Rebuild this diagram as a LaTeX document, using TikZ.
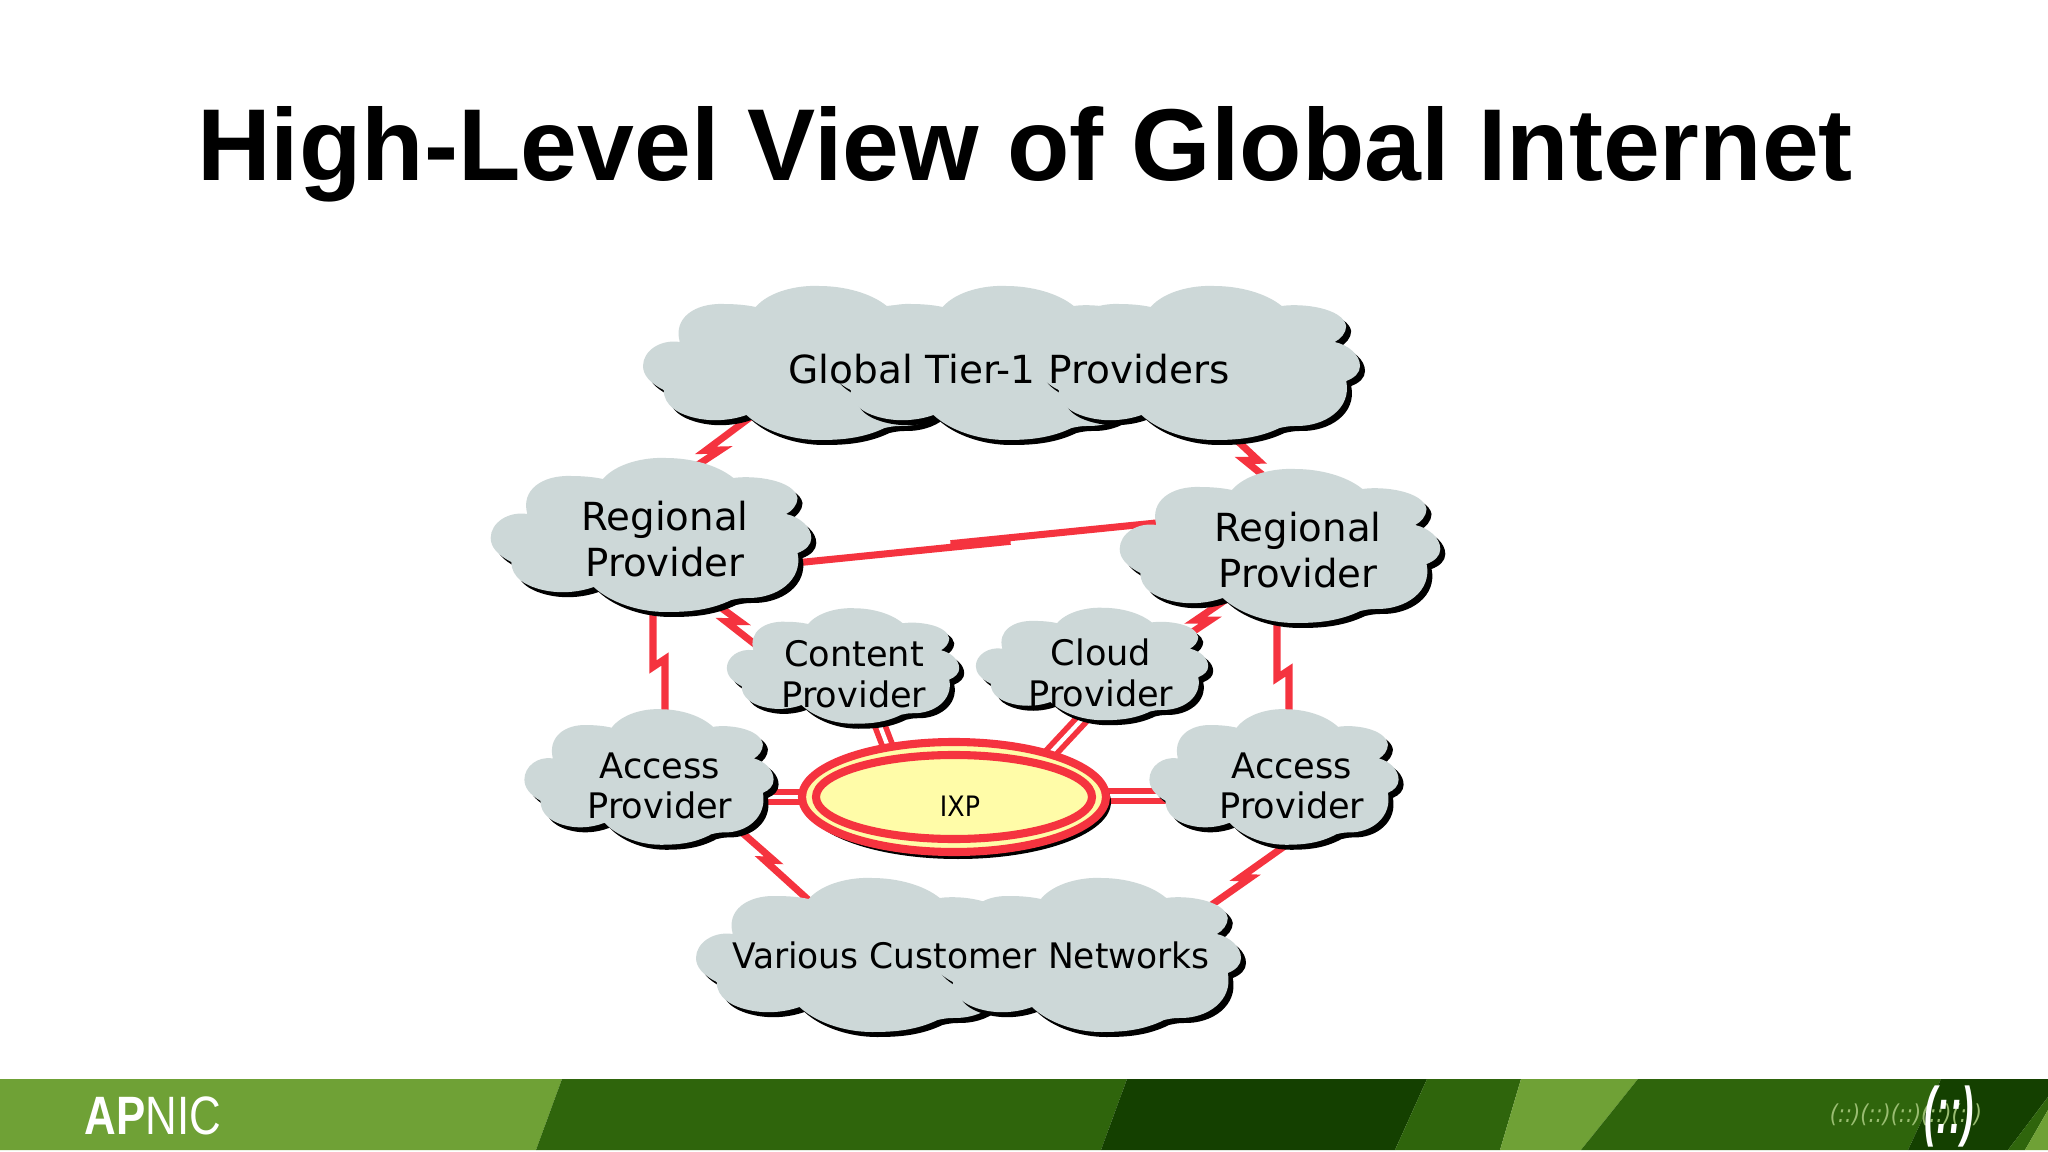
\documentclass[tikz,border=0pt]{standalone}
\usepackage{fontspec}
\setmainfont{DejaVu Sans}
\newfontfamily\titlefont{Liberation Sans}
\usetikzlibrary{calc,backgrounds}
\definecolor{cloudgrey}{HTML}{CDD8D8}
\definecolor{linkred}{HTML}{F5333F}
\definecolor{ixpyellow}{HTML}{FFFCA8}
\definecolor{barlight}{HTML}{6FA136}
\definecolor{barmid}{HTML}{2F650C}
\definecolor{bardark}{HTML}{144000}
\tikzset{
	link/.style={draw=linkred,line width=2pt},
	bolt/.style n args={3}{link,to path={
		-- ($(\tikztostart)!#1!(\tikztotarget)!#2!(\tikztotarget)!#3!90:(\tikztotarget)$)
		-- ($(\tikztostart)!#1!(\tikztotarget)!-#2!(\tikztotarget)!-#3!90:(\tikztotarget)$)
		-- (\tikztotarget) \tikztonodes}},
	peering/.style={draw=linkred,line width=1.6pt,double=white,double distance=1.2pt},
	bigname/.style={align=center,inner sep=0pt,font=\fontsize{11}{13}\selectfont},
	smallname/.style={align=center,inner sep=0pt,font=\fontsize{10}{11.6}\selectfont},
}
% x y xscale yscale
\newcommand{\puff}[4]{
	\foreach \off/\col in {5/black,0/cloudgrey}{
		\fill[\col,shift={(#1+\off,#2+\off)},xscale=#3,yscale=#4]
			(-122,27) .. controls (-134,20) and (-140,12) .. (-140,3)
			.. controls (-140,-12) and (-125,-24) .. (-108,-21)
			.. controls (-114,-45) and (-95,-60) .. (-70,-59)
			.. controls (-60,-59) and (-50,-58) .. (-42,-56)
			.. controls (-30,-72) and (-5,-78) .. (13,-77)
			.. controls (35,-77) and (58,-70) .. (72,-57)
			.. controls (90,-60) and (125,-55) .. (128,-37)
			.. controls (128,-30) and (123,-24) .. (118,-21)
			.. controls (130,-18) and (140,-8) .. (140,3)
			.. controls (140,10) and (135,15) .. (128,18)
			.. controls (133,45) and (110,64) .. (83,63)
			.. controls (78,63) and (74,64) .. (70,65)
			.. controls (50,76) and (30,77) .. (13,77)
			.. controls (-10,77) and (-35,68) .. (-50,52)
			.. controls (-65,58) and (-80,58) .. (-90,56)
			.. controls (-110,52) and (-122,42) .. (-122,27) -- cycle;
	}
}
\begin{document}
\begin{tikzpicture}[x=0.01cm,y=-0.01cm]
	\useasboundingbox (0,0) rectangle (2048,1152);
	% footer bar
	\fill[barlight] (0,1079) -- (562,1079) -- (536,1150) -- (0,1150) -- cycle;
	\fill[barmid] (562,1079) -- (1127,1079) -- (1101,1150) -- (536,1150) -- cycle;
	\fill[bardark] (1127,1079) -- (1427,1079) -- (1395,1150) -- (1101,1150) -- cycle;
	\fill[barmid] (1427,1079) -- (1521,1079) -- (1500,1150) -- (1395,1150) -- cycle;
	\fill[barlight] (1521,1079) -- (1638,1079) -- (1581,1150) -- (1500,1150) -- cycle;
	\fill[barmid] (1638,1079) -- (1941,1079) -- (1908,1150) -- (1581,1150) -- cycle;
	\fill[bardark] (1941,1079) -- (2048,1079) -- (2048,1097) -- (2008,1150) -- (1908,1150) -- cycle;
	\fill[barmid] (2048,1097) -- (2048,1110) -- (2025,1150) -- (2008,1150) -- cycle;
	\fill[barlight] (2048,1110) -- (2048,1150) -- (2025,1150) -- cycle;
	\node[text=white,inner sep=0pt,xscale=0.86,yscale=1.06,font=\titlefont\fontsize{14.5}{16}\selectfont] (apnic) at (153,1116) {\textbf{AP}NIC};
	\node[text=barlight!70!white,inner sep=0pt,xscale=0.85,font=\fontsize{7}{8}\selectfont\itshape] (ghost) at (1906,1115) {(::)(::)(::)(::)(::)};
	\node[text=white,inner sep=0pt,xscale=0.62,yscale=1.1,font=\titlefont\fontsize{17}{18}\selectfont\bfseries\itshape] (mark) at (1949,1116) {(::)};
	% title
	\node[inner sep=0pt,font=\titlefont\fontsize{29.05}{32}\selectfont\bfseries] (title) at (1025,154) {High-Level View of Global Internet};
	% clouds
	\puff{804}{363}{1.15}{1}
	\puff{991}{363}{1.15}{1}
	\puff{1199}{363}{1.15}{1}
	\puff{651}{535}{1.145}{1}
	\puff{1280}{546}{1.145}{1}
	\puff{843}{666}{0.83}{0.75}
	\puff{1092}{664}{0.83}{0.73}
	\puff{649}{777}{0.89}{0.88}
	\puff{1274}{777}{0.89}{0.88}
	\puff{857}{955}{1.15}{1}
	\puff{1087}{955}{1.1}{1}
	% ixp
	\fill[black] (958,802) ellipse (153 and 57);
	\draw[linkred,fill=ixpyellow,line width=2.3pt] (954,797) ellipse (152 and 55);
	\draw[linkred,fill=ixpyellow,line width=2.3pt] (954,797) ellipse (138 and 42);
	% names
	\node[bigname,xscale=1.01] (tier) at (1009,369) {Global Tier-1 Providers};
	\node[bigname] (regL) at (665,539) {Regional\\Provider};
	\node[bigname] (regR) at (1298,550) {Regional\\Provider};
	\node[smallname] (content) at (854,674) {Content\\Provider};
	\node[smallname] (cloudp) at (1101,673) {Cloud\\Provider};
	\node[smallname] (accL) at (660,786) {Access\\Provider};
	\node[smallname] (accR) at (1292,786) {Access\\Provider};
	\node[smallname,xscale=0.98] (cust) at (971,955) {Various Customer Networks};
	\node[inner sep=0pt,xscale=0.9,font=\fontsize{8}{9}\selectfont] (ixp) at (960,806) {IXP};
	% links go under the clouds
	\begin{pgfonlayer}{background}
		\fill[white] (0,0) rectangle (2048,1152);
		\draw[bolt={.67}{1.6pt}{-1.3pt}] ([shift={(-249,41)}]tier.center) to ([shift={(25,-69)}]regL.center);
		\draw[bolt={.66}{1.3pt}{1.45pt}] ([shift={(206,51)}]tier.center) to ([shift={(-28,-69)}]regR.center);
		\draw[bolt={.5}{8.5pt}{-.6pt}] ([shift={(130,24)}]regL.center) to ([shift={(-132,-28)}]regR.center);
		\draw[link] ([shift={(-12,61)}]regL.center) -- ++(0,67) -- ++(12,-8) -- ([shift={(5,-66)}]accL.center);
		\draw[link] ([shift={(-21,50)}]regR.center) -- ++(0,78) -- ++(12,-8) -- ([shift={(-3,-66)}]accR.center);
		\draw[bolt={.4}{1.5pt}{1.35pt}] ([shift={(40,57)}]regL.center) to ([shift={(-79,-14)}]content.center);
		\draw[bolt={.53}{1.6pt}{-1.3pt}] ([shift={(-58,40)}]regR.center) to ([shift={(69,-26)}]cloudp.center);
		\draw[peering] ([shift={(16,26)}]content.center) -- ([shift={(-65,-41)}]ixp.center);
		\draw[peering] ([shift={(-1,27)}]cloudp.center) -- ([shift={(70,-31)}]ixp.center);
		\draw[peering] ([shift={(90,11)}]accL.center) -- ([shift={(-140,-9)}]ixp.center);
		\draw[peering] ([shift={(-122,10)}]accR.center) -- ([shift={(130,-10)}]ixp.center);
		\draw[bolt={.41}{1pt}{.9pt}] ([shift={(70,36)}]accL.center) to ([shift={(-146,-40)}]cust.center);
		\draw[bolt={.53}{1.1pt}{-.9pt}] ([shift={(4,52)}]accR.center) to ([shift={(229,-42)}]cust.center);
	\end{pgfonlayer}
\end{tikzpicture}
\end{document}
